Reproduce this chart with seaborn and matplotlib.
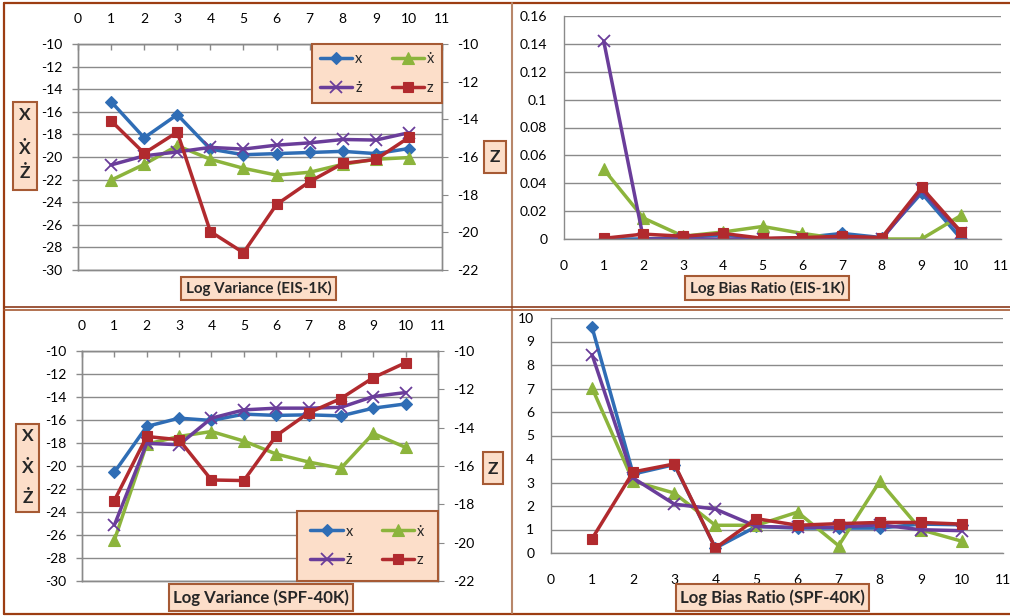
import matplotlib
matplotlib.use("Agg")
import matplotlib.pyplot as plt
import seaborn as sns
from matplotlib.patches import Rectangle
from matplotlib.lines import Line2D
from matplotlib.ticker import MultipleLocator, FuncFormatter

# ---------------- data ----------------
positions = [1, 2, 3, 4, 5, 6, 7, 8, 9, 10]
series_names = ["x", "ẋ", "ż", "z"]

eis_var_x = [-15.1, -18.3, -16.25, -19.3, -19.8, -19.7, -19.6, -19.5, -19.7, -19.25]
eis_var_xdot = [-22.05, -20.65, -19.0, -20.2, -21.0, -21.6, -21.35, -20.65, -20.2, -20.05]
eis_var_zdot = [-20.7, -19.9, -19.55, -19.15, -19.3, -18.95, -18.75, -18.45, -18.5, -17.85]
eis_var_z = [-14.08, -15.8, -14.68, -19.96, -21.08, -18.52, -17.31, -16.34, -16.13, -14.96]

eis_bias_x = [0.0, 0.0, 0.001, 0.003, 0.0, 0.001, 0.004, 0.001, 0.033, 0.0]
eis_bias_xdot = [0.050, 0.015, 0.002, 0.005, 0.009, 0.004, 0.0, 0.0, 0.0, 0.017]
eis_bias_zdot = [0.142, 0.0, 0.0, 0.0, 0.0, 0.0, 0.0, 0.0, 0.035, 0.004]
eis_bias_z = [0.0005, 0.0035, 0.002, 0.004, 0.0005, 0.001, 0.002, 0.001, 0.037, 0.005]

spf_var_x = [-20.55, -16.56, -15.84, -16.04, -15.49, -15.6, -15.55, -15.64, -14.97, -14.6]
spf_var_xdot = [-26.45, -18.1, -17.43, -17.0, -17.83, -18.96, -19.65, -20.2, -17.17, -18.38]
spf_var_zdot = [-25.14, -18.03, -18.15, -15.84, -15.12, -14.97, -14.97, -14.9, -13.96, -13.61]
spf_var_z = [-17.8, -14.46, -14.63, -16.73, -16.76, -14.42, -13.23, -12.48, -11.39, -10.61]

spf_bias_x = [9.6, 3.36, 3.76, 0.21, 1.13, 1.06, 1.06, 1.06, 1.23, 1.2]
spf_bias_xdot = [7.02, 3.05, 2.55, 1.18, 1.18, 1.74, 0.31, 3.05, 0.99, 0.5]
spf_bias_zdot = [8.44, 3.19, 2.08, 1.87, 1.13, 1.09, 1.1, 1.2, 0.99, 0.95]
spf_bias_z = [0.61, 3.45, 3.79, 0.21, 1.46, 1.18, 1.25, 1.3, 1.3, 1.23]

xlabels = ["Log Variance (EIS-1K)", "Log Bias Ratio (EIS-1K)",
           "Log Variance (SPF-40K)", "Log Bias Ratio (SPF-40K)"]
left_axis_letters = ["X", "Ẋ", "Ż"]
right_axis_letter = "Z"

# ---------------- style ----------------
sns.set_style("white")
plt.rcParams['font.family'] = ['Lato', 'DejaVu Sans']
plt.rcParams['axes.unicode_minus'] = False

BLUE = "#2F6DB5"
GREEN = "#8CB43C"
PURPLE = "#6A3D9A"
RED = "#B12A2E"
GRID = "#8A8A8A"
PEACH = "#FCDEC9"
BOXEDGE = "#A65A34"
COLORS = [BLUE, GREEN, PURPLE, RED]
MARKERS = ["D", "^", "x", "s"]
MSIZES = [6.5, 8, 8.5, 7.5]
TICKSIZE = 10

W, H = 1010, 616
fig = plt.figure(figsize=(W / 100, H / 100), dpi=100)
fig.patch.set_facecolor("white")
renderer = fig.canvas.get_renderer()


def rect(l, t, r, b):
    return [l / W, 1 - b / H, (r - l) / W, (b - t) / H]


def draw_series(ax, values, idx):
    c = COLORS[idx]
    sns.lineplot(x=positions, y=values, ax=ax, color=c, marker=MARKERS[idx],
                 markersize=MSIZES[idx], linewidth=2.5, markeredgecolor=c,
                 markeredgewidth=1.3 if MARKERS[idx] == "x" else 0.8,
                 errorbar=None, legend=False)
    return ax.lines[-1]


def base_style(ax, ylim, ystep):
    ax.set_xlim(0, 11)
    ax.set_ylim(*ylim)
    ax.xaxis.set_major_locator(MultipleLocator(1))
    ax.yaxis.set_major_locator(MultipleLocator(ystep))
    ax.grid(axis="y", color=GRID, lw=1)
    ax.grid(axis="x", visible=False)
    ax.set_xlabel("")
    ax.set_ylabel("")
    ax.set_facecolor("white")
    ax.tick_params(labelsize=TICKSIZE, labelcolor="black", color=GRID, width=1)
    for s in ax.spines.values():
        s.set_color(GRID)
        s.set_linewidth(1)


def label_box(l, t, r, b):
    fig.add_artist(Rectangle((l / W, 1 - b / H), (r - l) / W, (b - t) / H,
                             transform=fig.transFigure, facecolor=PEACH,
                             edgecolor=BOXEDGE, lw=1.5, zorder=5))


def fitted_text(cx, cy, s, target_w, **kw):
    t = fig.text(cx / W, 1 - cy / H, s, ha="center", va="center",
                 fontsize=10, zorder=6, **kw)
    w = t.get_window_extent(renderer).width
    t.set_fontsize(10 * target_w / w)
    return t


def variance_panel(box, vals, zvals, legend_loc, legend_anchor, borderpad):
    ax = fig.add_axes(rect(*box))
    handles = [draw_series(ax, v, i) for i, v in enumerate(vals)]
    base_style(ax, (-30, -10), 2)
    ax.xaxis.tick_top()
    ax.tick_params(axis="x", direction="in", length=4, pad=14, top=True, bottom=False)
    ax.tick_params(axis="y", direction="out", length=4, pad=7)
    ax2 = ax.twinx()
    handles.append(draw_series(ax2, zvals, 3))
    ax2.set_ylim(-22, -10)
    ax2.yaxis.set_major_locator(MultipleLocator(2))
    ax2.set_ylabel("")
    ax2.grid(False)
    ax2.tick_params(axis="y", direction="out", length=4, pad=7, labelsize=TICKSIZE,
                    labelcolor="black", color=GRID)
    for s in ax2.spines.values():
        s.set_color(GRID)
        s.set_linewidth(1)
    order = [0, 2, 1, 3]
    leg = ax2.legend([handles[i] for i in order], [series_names[i] for i in order],
                     ncol=2, loc=legend_loc, bbox_to_anchor=legend_anchor,
                     borderaxespad=0, frameon=True, fancybox=False,
                     facecolor=PEACH, edgecolor=BOXEDGE, framealpha=1,
                     fontsize=10.5, handlelength=2.2, handletextpad=0.2,
                     columnspacing=2.0, labelspacing=1.0, borderpad=borderpad)
    leg.get_frame().set_linewidth(1.5)
    return ax


def bias_panel(box, vals, ylim, ystep, fmt=None):
    ax = fig.add_axes(rect(*box))
    for i, v in enumerate(vals):
        draw_series(ax, v, i)
    base_style(ax, ylim, ystep)
    ax.tick_params(axis="x", direction="out", length=5, pad=10)
    ax.tick_params(axis="y", direction="out", length=5, pad=7)
    ax.spines["top"].set_visible(False)
    ax.spines["right"].set_visible(False)
    if fmt is not None:
        ax.yaxis.set_major_formatter(fmt)
    return ax


# ---------------- panels ----------------
variance_panel((78, 44, 442, 270), [eis_var_x, eis_var_xdot, eis_var_zdot], eis_var_z,
               "upper right", (1, 1), 0.55)
bias_panel((564, 16, 1001, 239), [eis_bias_x, eis_bias_xdot, eis_bias_zdot, eis_bias_z],
           (0, 0.16), 0.02, FuncFormatter(lambda v, p: "%g" % round(v, 3)))
variance_panel((82, 351, 438, 581), [spf_var_x, spf_var_xdot, spf_var_zdot], spf_var_z,
               "lower right", (1, 0), 0.95)
bias_panel((551, 318, 1003, 553), [spf_bias_x, spf_bias_xdot, spf_bias_zdot, spf_bias_z],
           (0, 10), 1)

# ---------------- axis title boxes ----------------
for (l, t, r, b), s, tw in [((181, 277, 336, 300), xlabels[0], 146),
                            ((685, 276, 849, 300), xlabels[1], 155),
                            ((169, 584, 353, 611), xlabels[2], 176),
                            ((676, 584, 869, 611), xlabels[3], 185)]:
    label_box(l, t, r, b)
    fitted_text((l + r) / 2, (t + b) / 2, s, tw, fontweight="bold")

for (l, t, r, b), baselines in [((13, 102, 37, 190), [120, 154, 178]),
                                ((16, 424, 39, 512), [441, 473, 503])]:
    label_box(l, t, r, b)
    for letter, yb in zip(left_axis_letters, baselines):
        fig.text((l + r) / 2 / W, 1 - yb / H, letter, ha="center", va="baseline",
                 fontsize=12.5, fontweight="bold", zorder=6)

for (l, t, r, b), yb in [((484, 141, 506, 173), 162), ((483, 452, 503, 484), 474)]:
    label_box(l, t, r, b)
    fig.text((l + r) / 2 / W, 1 - yb / H, right_axis_letter, ha="center",
             va="baseline", fontsize=12.5, fontweight="bold", zorder=6)

# ---------------- frame lines ----------------
for xs, ys, col, lw in [([3.5, 3.5], [2.5, 614], "#9C3D12", 1.6),
                        ([3.5, 1010], [2.5, 2.5], "#9C3D12", 1.6),
                        ([3.5, 1010], [614, 614], "#9C3D12", 1.6),
                        ([512, 512], [3, 613], "#B8876A", 1.5),
                        ([4, 1010], [306.5, 306.5], "#8B3A1A", 1.2),
                        ([4, 1010], [309.5, 309.5], "#A65A34", 1.2)]:
    fig.add_artist(Line2D([x / W for x in xs], [1 - y / H for y in ys],
                          transform=fig.transFigure, color=col, lw=lw, zorder=1))

fig.savefig("out.png", dpi=100, facecolor="white")
